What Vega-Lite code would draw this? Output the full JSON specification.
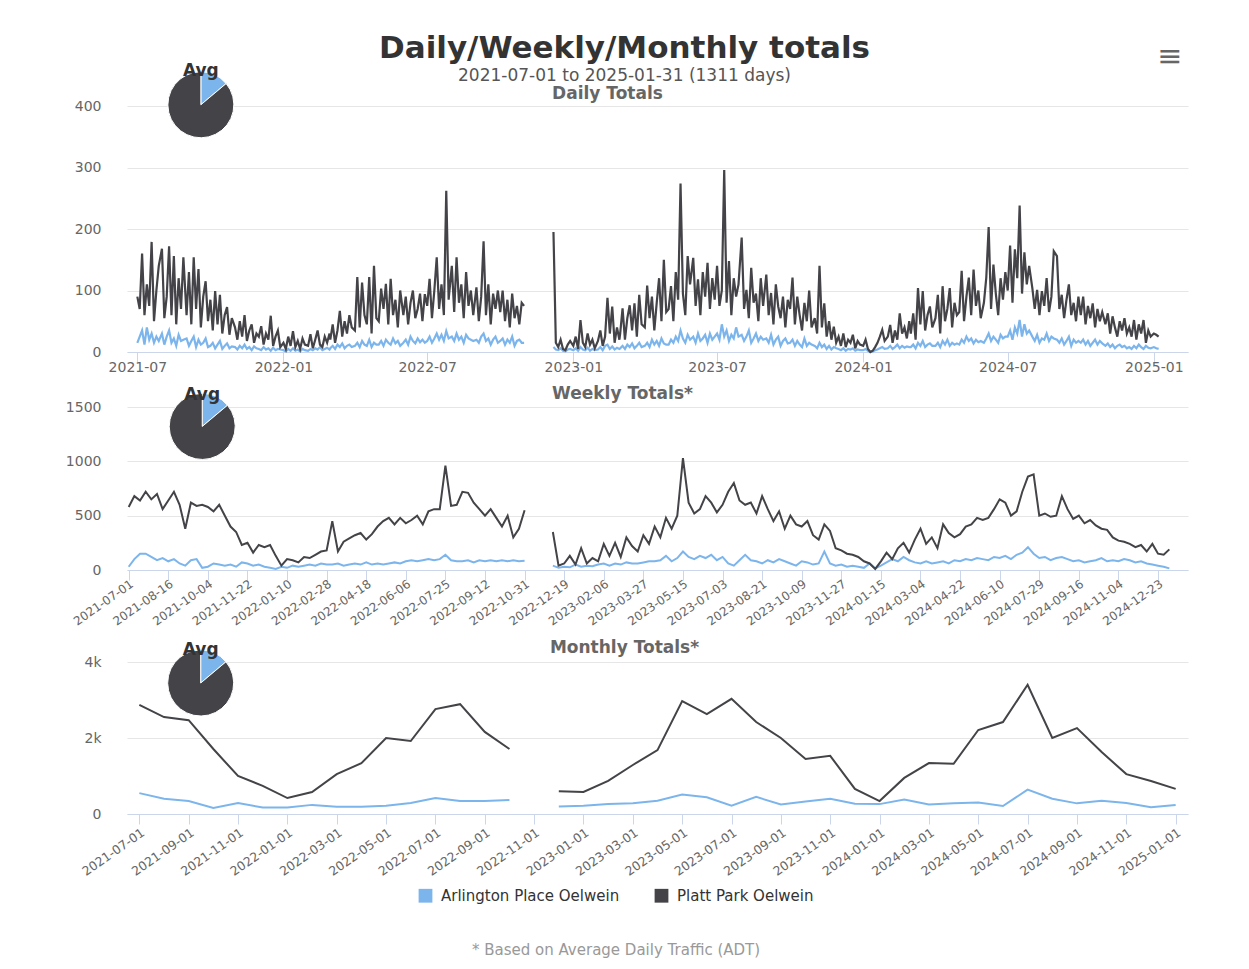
{
"$schema":"https://vega.github.io/schema/vega-lite/v6.json",
"background":"white",
"padding":{"left":5,"top":32,"right":5,"bottom":5},
"title":{"text":"Daily/Weekly/Monthly totals","subtitle":"2021-07-01 to 2025-01-31 (1311 days)","anchor":"middle","dx":28,"font":"DejaVu Sans","fontSize":31,"fontWeight":"bold","color":"#333333","subtitleFont":"DejaVu Sans","subtitleFontSize":17,"subtitleColor":"#555555","subtitlePadding":3,"offset":-43},
"datasets":{
"names":[{"k":"a","series":"Arlington Place Oelwein"},{"k":"p","series":"Platt Park Oelwein"}],
"avg":[{"series":"Arlington Place Oelwein","v":10},{"series":"Platt Park Oelwein","v":62}],
"daily":[
{"d":"2021-07-01","a":15,"p":90},{"d":"2021-07-04","a":25,"p":70},{"d":"2021-07-07","a":35,"p":160},{"d":"2021-07-10","a":12,"p":60},{"d":"2021-07-13","a":40,"p":110},{"d":"2021-07-16","a":20,"p":75},{"d":"2021-07-19","a":30,"p":179},{"d":"2021-07-22","a":15,"p":50},{"d":"2021-07-25","a":25,"p":100},{"d":"2021-07-28","a":18,"p":140},
{"d":"2021-08-01","a":30,"p":168},{"d":"2021-08-04","a":12,"p":55},{"d":"2021-08-07","a":25,"p":90},{"d":"2021-08-10","a":35,"p":172},{"d":"2021-08-13","a":15,"p":60},{"d":"2021-08-16","a":22,"p":156},{"d":"2021-08-19","a":10,"p":45},{"d":"2021-08-22","a":28,"p":120},{"d":"2021-08-25","a":18,"p":70},{"d":"2021-08-28","a":20,"p":154},
{"d":"2021-09-01","a":22,"p":60},{"d":"2021-09-04","a":10,"p":130},{"d":"2021-09-07","a":18,"p":45},{"d":"2021-09-10","a":25,"p":154},{"d":"2021-09-13","a":8,"p":70},{"d":"2021-09-16","a":20,"p":135},{"d":"2021-09-19","a":12,"p":40},{"d":"2021-09-22","a":15,"p":90},{"d":"2021-09-25","a":22,"p":115},{"d":"2021-09-28","a":8,"p":50},
{"d":"2021-10-01","a":10,"p":85},{"d":"2021-10-04","a":15,"p":35},{"d":"2021-10-07","a":6,"p":99},{"d":"2021-10-10","a":12,"p":45},{"d":"2021-10-13","a":18,"p":93},{"d":"2021-10-16","a":5,"p":30},{"d":"2021-10-19","a":10,"p":60},{"d":"2021-10-22","a":14,"p":73},{"d":"2021-10-25","a":6,"p":28},{"d":"2021-10-28","a":9,"p":55},
{"d":"2021-11-01","a":8,"p":40},{"d":"2021-11-04","a":4,"p":20},{"d":"2021-11-07","a":10,"p":50},{"d":"2021-11-10","a":6,"p":25},{"d":"2021-11-13","a":12,"p":60},{"d":"2021-11-16","a":5,"p":18},{"d":"2021-11-19","a":8,"p":35},{"d":"2021-11-22","a":3,"p":45},{"d":"2021-11-25","a":9,"p":15},{"d":"2021-11-28","a":6,"p":30},
{"d":"2021-12-01","a":5,"p":25},{"d":"2021-12-04","a":3,"p":42},{"d":"2021-12-07","a":8,"p":12},{"d":"2021-12-10","a":4,"p":30},{"d":"2021-12-13","a":6,"p":20},{"d":"2021-12-16","a":2,"p":59},{"d":"2021-12-19","a":7,"p":10},{"d":"2021-12-22","a":3,"p":25},{"d":"2021-12-25","a":5,"p":35},{"d":"2021-12-28","a":4,"p":8},
{"d":"2022-01-01","a":3,"p":15},{"d":"2022-01-04","a":1,"p":5},{"d":"2022-01-07","a":5,"p":25},{"d":"2022-01-10","a":2,"p":10},{"d":"2022-01-13","a":6,"p":34},{"d":"2022-01-16","a":2,"p":8},{"d":"2022-01-19","a":4,"p":18},{"d":"2022-01-22","a":1,"p":5},{"d":"2022-01-25","a":5,"p":22},{"d":"2022-01-28","a":3,"p":12},
{"d":"2022-02-01","a":2,"p":10},{"d":"2022-02-04","a":5,"p":29},{"d":"2022-02-07","a":3,"p":6},{"d":"2022-02-10","a":6,"p":20},{"d":"2022-02-13","a":4,"p":35},{"d":"2022-02-16","a":8,"p":12},{"d":"2022-02-19","a":3,"p":8},{"d":"2022-02-22","a":5,"p":25},{"d":"2022-02-25","a":7,"p":15},{"d":"2022-02-28","a":4,"p":30},
{"d":"2022-03-01","a":6,"p":20},{"d":"2022-03-04","a":10,"p":45},{"d":"2022-03-07","a":5,"p":15},{"d":"2022-03-10","a":12,"p":35},{"d":"2022-03-13","a":8,"p":67},{"d":"2022-03-16","a":14,"p":25},{"d":"2022-03-19","a":6,"p":50},{"d":"2022-03-22","a":10,"p":30},{"d":"2022-03-25","a":12,"p":60},{"d":"2022-03-28","a":8,"p":40},
{"d":"2022-04-01","a":10,"p":35},{"d":"2022-04-04","a":15,"p":122},{"d":"2022-04-07","a":8,"p":40},{"d":"2022-04-10","a":18,"p":113},{"d":"2022-04-13","a":12,"p":60},{"d":"2022-04-16","a":10,"p":45},{"d":"2022-04-19","a":20,"p":122},{"d":"2022-04-22","a":8,"p":30},{"d":"2022-04-25","a":15,"p":140},{"d":"2022-04-28","a":12,"p":55},
{"d":"2022-05-01","a":12,"p":50},{"d":"2022-05-04","a":18,"p":103},{"d":"2022-05-07","a":10,"p":70},{"d":"2022-05-10","a":20,"p":111},{"d":"2022-05-13","a":15,"p":45},{"d":"2022-05-16","a":12,"p":119},{"d":"2022-05-19","a":22,"p":60},{"d":"2022-05-22","a":14,"p":85},{"d":"2022-05-25","a":18,"p":40},{"d":"2022-05-28","a":10,"p":100},
{"d":"2022-06-01","a":15,"p":60},{"d":"2022-06-04","a":20,"p":90},{"d":"2022-06-07","a":12,"p":45},{"d":"2022-06-10","a":25,"p":80},{"d":"2022-06-13","a":18,"p":100},{"d":"2022-06-16","a":14,"p":55},{"d":"2022-06-19","a":22,"p":70},{"d":"2022-06-22","a":16,"p":95},{"d":"2022-06-25","a":20,"p":50},{"d":"2022-06-28","a":15,"p":94},
{"d":"2022-07-01","a":18,"p":75},{"d":"2022-07-04","a":25,"p":119},{"d":"2022-07-07","a":15,"p":55},{"d":"2022-07-10","a":22,"p":100},{"d":"2022-07-13","a":30,"p":154},{"d":"2022-07-16","a":20,"p":70},{"d":"2022-07-19","a":28,"p":110},{"d":"2022-07-22","a":18,"p":60},{"d":"2022-07-25","a":34,"p":262},{"d":"2022-07-28","a":22,"p":85},
{"d":"2022-08-01","a":25,"p":140},{"d":"2022-08-04","a":18,"p":65},{"d":"2022-08-07","a":30,"p":154},{"d":"2022-08-10","a":20,"p":80},{"d":"2022-08-13","a":25,"p":110},{"d":"2022-08-16","a":15,"p":55},{"d":"2022-08-19","a":28,"p":130},{"d":"2022-08-22","a":22,"p":75},{"d":"2022-08-25","a":20,"p":100},{"d":"2022-08-28","a":18,"p":60},
{"d":"2022-09-01","a":20,"p":105},{"d":"2022-09-04","a":15,"p":50},{"d":"2022-09-07","a":25,"p":90},{"d":"2022-09-10","a":30,"p":180},{"d":"2022-09-13","a":18,"p":60},{"d":"2022-09-16","a":22,"p":110},{"d":"2022-09-19","a":12,"p":45},{"d":"2022-09-22","a":20,"p":95},{"d":"2022-09-25","a":25,"p":70},{"d":"2022-09-28","a":15,"p":100},
{"d":"2022-10-01","a":18,"p":65},{"d":"2022-10-04","a":22,"p":100},{"d":"2022-10-07","a":12,"p":50},{"d":"2022-10-10","a":20,"p":85},{"d":"2022-10-13","a":15,"p":40},{"d":"2022-10-16","a":25,"p":95},{"d":"2022-10-19","a":10,"p":55},{"d":"2022-10-22","a":18,"p":75},{"d":"2022-10-25","a":20,"p":45},{"d":"2022-10-28","a":15,"p":80},{"d":"2022-10-31","a":15,"p":75},
{"d":"2022-11-15","a":null,"p":null},
{"d":"2022-12-07","a":8,"p":195},{"d":"2022-12-10","a":4,"p":15},{"d":"2022-12-13","a":3,"p":8},{"d":"2022-12-16","a":6,"p":20},{"d":"2022-12-19","a":2,"p":5},{"d":"2022-12-22","a":1,"p":3},{"d":"2022-12-25","a":4,"p":12},{"d":"2022-12-28","a":5,"p":18},
{"d":"2023-01-01","a":3,"p":10},{"d":"2023-01-04","a":6,"p":25},{"d":"2023-01-07","a":2,"p":5},{"d":"2023-01-10","a":8,"p":52},{"d":"2023-01-13","a":4,"p":15},{"d":"2023-01-16","a":3,"p":8},{"d":"2023-01-19","a":7,"p":30},{"d":"2023-01-22","a":2,"p":12},{"d":"2023-01-25","a":5,"p":20},{"d":"2023-01-28","a":3,"p":6},
{"d":"2023-02-01","a":4,"p":18},{"d":"2023-02-04","a":8,"p":35},{"d":"2023-02-07","a":3,"p":10},{"d":"2023-02-10","a":10,"p":25},{"d":"2023-02-13","a":12,"p":88},{"d":"2023-02-16","a":5,"p":30},{"d":"2023-02-19","a":9,"p":74},{"d":"2023-02-22","a":4,"p":15},{"d":"2023-02-25","a":7,"p":40},{"d":"2023-02-28","a":5,"p":20},
{"d":"2023-03-01","a":6,"p":30},{"d":"2023-03-04","a":10,"p":71},{"d":"2023-03-07","a":5,"p":20},{"d":"2023-03-10","a":12,"p":55},{"d":"2023-03-13","a":8,"p":76},{"d":"2023-03-16","a":14,"p":35},{"d":"2023-03-19","a":6,"p":79},{"d":"2023-03-22","a":10,"p":25},{"d":"2023-03-25","a":15,"p":93},{"d":"2023-03-28","a":8,"p":45},
{"d":"2023-04-01","a":10,"p":40},{"d":"2023-04-04","a":15,"p":108},{"d":"2023-04-07","a":8,"p":55},{"d":"2023-04-10","a":20,"p":90},{"d":"2023-04-13","a":12,"p":35},{"d":"2023-04-16","a":18,"p":80},{"d":"2023-04-19","a":10,"p":120},{"d":"2023-04-22","a":22,"p":50},{"d":"2023-04-25","a":14,"p":150},{"d":"2023-04-28","a":12,"p":65},
{"d":"2023-05-01","a":12,"p":70},{"d":"2023-05-04","a":20,"p":107},{"d":"2023-05-07","a":15,"p":50},{"d":"2023-05-10","a":25,"p":130},{"d":"2023-05-13","a":18,"p":85},{"d":"2023-05-16","a":35,"p":274},{"d":"2023-05-19","a":22,"p":95},{"d":"2023-05-22","a":15,"p":60},{"d":"2023-05-25","a":28,"p":156},{"d":"2023-05-28","a":20,"p":110},
{"d":"2023-06-01","a":25,"p":153},{"d":"2023-06-04","a":15,"p":75},{"d":"2023-06-07","a":30,"p":118},{"d":"2023-06-10","a":18,"p":60},{"d":"2023-06-13","a":22,"p":130},{"d":"2023-06-16","a":28,"p":90},{"d":"2023-06-19","a":15,"p":145},{"d":"2023-06-22","a":30,"p":70},{"d":"2023-06-25","a":20,"p":120},{"d":"2023-06-28","a":25,"p":85},
{"d":"2023-07-01","a":30,"p":140},{"d":"2023-07-04","a":20,"p":75},{"d":"2023-07-07","a":45,"p":100},{"d":"2023-07-10","a":25,"p":296},{"d":"2023-07-13","a":35,"p":80},{"d":"2023-07-16","a":18,"p":148},{"d":"2023-07-19","a":28,"p":60},{"d":"2023-07-22","a":22,"p":120},{"d":"2023-07-25","a":40,"p":90},{"d":"2023-07-28","a":25,"p":110},
{"d":"2023-08-01","a":28,"p":186},{"d":"2023-08-04","a":18,"p":70},{"d":"2023-08-07","a":25,"p":101},{"d":"2023-08-10","a":35,"p":55},{"d":"2023-08-13","a":15,"p":137},{"d":"2023-08-16","a":22,"p":80},{"d":"2023-08-19","a":30,"p":95},{"d":"2023-08-22","a":18,"p":50},{"d":"2023-08-25","a":25,"p":120},{"d":"2023-08-28","a":20,"p":75},
{"d":"2023-09-01","a":22,"p":126},{"d":"2023-09-04","a":15,"p":60},{"d":"2023-09-07","a":28,"p":96},{"d":"2023-09-10","a":12,"p":45},{"d":"2023-09-13","a":20,"p":110},{"d":"2023-09-16","a":25,"p":74},{"d":"2023-09-19","a":10,"p":55},{"d":"2023-09-22","a":18,"p":90},{"d":"2023-09-25","a":22,"p":40},{"d":"2023-09-28","a":14,"p":85},
{"d":"2023-10-01","a":15,"p":70},{"d":"2023-10-04","a":20,"p":121},{"d":"2023-10-07","a":10,"p":45},{"d":"2023-10-10","a":18,"p":90},{"d":"2023-10-13","a":12,"p":60},{"d":"2023-10-16","a":8,"p":35},{"d":"2023-10-19","a":22,"p":80},{"d":"2023-10-22","a":10,"p":50},{"d":"2023-10-25","a":15,"p":100},{"d":"2023-10-28","a":12,"p":40},
{"d":"2023-11-01","a":10,"p":55},{"d":"2023-11-04","a":6,"p":30},{"d":"2023-11-07","a":15,"p":140},{"d":"2023-11-10","a":8,"p":40},{"d":"2023-11-13","a":12,"p":79},{"d":"2023-11-16","a":5,"p":25},{"d":"2023-11-19","a":10,"p":50},{"d":"2023-11-22","a":4,"p":20},{"d":"2023-11-25","a":8,"p":41},{"d":"2023-11-28","a":6,"p":15},
{"d":"2023-12-01","a":5,"p":25},{"d":"2023-12-04","a":3,"p":10},{"d":"2023-12-07","a":6,"p":30},{"d":"2023-12-10","a":2,"p":8},{"d":"2023-12-13","a":5,"p":20},{"d":"2023-12-16","a":4,"p":15},{"d":"2023-12-19","a":6,"p":28},{"d":"2023-12-22","a":2,"p":6},{"d":"2023-12-25","a":4,"p":18},{"d":"2023-12-28","a":3,"p":12},
{"d":"2024-01-01","a":3,"p":10},{"d":"2024-01-04","a":5,"p":20},{"d":"2024-01-07","a":2,"p":5},{"d":"2024-01-10","a":0,"p":0},{"d":"2024-01-13","a":1,"p":2},{"d":"2024-01-16","a":3,"p":8},{"d":"2024-01-19","a":4,"p":15},{"d":"2024-01-22","a":6,"p":25},{"d":"2024-01-25","a":8,"p":36},{"d":"2024-01-28","a":5,"p":18},
{"d":"2024-02-01","a":6,"p":25},{"d":"2024-02-04","a":10,"p":44},{"d":"2024-02-07","a":5,"p":15},{"d":"2024-02-10","a":8,"p":35},{"d":"2024-02-13","a":12,"p":20},{"d":"2024-02-16","a":6,"p":63},{"d":"2024-02-19","a":10,"p":30},{"d":"2024-02-22","a":7,"p":40},{"d":"2024-02-25","a":9,"p":22},{"d":"2024-02-28","a":8,"p":50},
{"d":"2024-03-01","a":8,"p":30},{"d":"2024-03-04","a":12,"p":63},{"d":"2024-03-07","a":6,"p":20},{"d":"2024-03-10","a":15,"p":104},{"d":"2024-03-13","a":10,"p":45},{"d":"2024-03-16","a":18,"p":99},{"d":"2024-03-19","a":8,"p":35},{"d":"2024-03-22","a":12,"p":60},{"d":"2024-03-25","a":14,"p":74},{"d":"2024-03-28","a":10,"p":40},
{"d":"2024-04-01","a":10,"p":55},{"d":"2024-04-04","a":15,"p":93},{"d":"2024-04-07","a":8,"p":30},{"d":"2024-04-10","a":18,"p":107},{"d":"2024-04-13","a":12,"p":50},{"d":"2024-04-16","a":20,"p":70},{"d":"2024-04-19","a":10,"p":104},{"d":"2024-04-22","a":15,"p":40},{"d":"2024-04-25","a":12,"p":80},{"d":"2024-04-28","a":14,"p":60},
{"d":"2024-05-01","a":12,"p":65},{"d":"2024-05-04","a":20,"p":132},{"d":"2024-05-07","a":15,"p":50},{"d":"2024-05-10","a":25,"p":90},{"d":"2024-05-13","a":18,"p":121},{"d":"2024-05-16","a":22,"p":60},{"d":"2024-05-19","a":14,"p":134},{"d":"2024-05-22","a":20,"p":75},{"d":"2024-05-25","a":16,"p":100},{"d":"2024-05-28","a":18,"p":55},
{"d":"2024-06-01","a":15,"p":80},{"d":"2024-06-04","a":22,"p":121},{"d":"2024-06-07","a":30,"p":203},{"d":"2024-06-10","a":18,"p":70},{"d":"2024-06-13","a":25,"p":142},{"d":"2024-06-16","a":20,"p":95},{"d":"2024-06-19","a":15,"p":60},{"d":"2024-06-22","a":28,"p":120},{"d":"2024-06-25","a":22,"p":85},{"d":"2024-06-28","a":25,"p":130},
{"d":"2024-07-01","a":25,"p":100},{"d":"2024-07-04","a":35,"p":173},{"d":"2024-07-07","a":20,"p":80},{"d":"2024-07-10","a":40,"p":167},{"d":"2024-07-13","a":30,"p":120},{"d":"2024-07-16","a":52,"p":238},{"d":"2024-07-19","a":25,"p":95},{"d":"2024-07-22","a":45,"p":162},{"d":"2024-07-25","a":30,"p":110},{"d":"2024-07-28","a":35,"p":140},
{"d":"2024-08-01","a":25,"p":104},{"d":"2024-08-04","a":18,"p":70},{"d":"2024-08-07","a":28,"p":101},{"d":"2024-08-10","a":15,"p":60},{"d":"2024-08-13","a":22,"p":99},{"d":"2024-08-16","a":20,"p":75},{"d":"2024-08-19","a":30,"p":120},{"d":"2024-08-22","a":18,"p":65},{"d":"2024-08-25","a":25,"p":90},{"d":"2024-08-28","a":22,"p":164},
{"d":"2024-09-01","a":20,"p":156},{"d":"2024-09-04","a":15,"p":70},{"d":"2024-09-07","a":22,"p":93},{"d":"2024-09-10","a":12,"p":55},{"d":"2024-09-13","a":18,"p":85},{"d":"2024-09-16","a":25,"p":110},{"d":"2024-09-19","a":10,"p":60},{"d":"2024-09-22","a":20,"p":80},{"d":"2024-09-25","a":15,"p":50},{"d":"2024-09-28","a":18,"p":90},
{"d":"2024-10-01","a":15,"p":60},{"d":"2024-10-04","a":20,"p":90},{"d":"2024-10-07","a":12,"p":45},{"d":"2024-10-10","a":18,"p":75},{"d":"2024-10-13","a":10,"p":55},{"d":"2024-10-16","a":15,"p":79},{"d":"2024-10-19","a":20,"p":40},{"d":"2024-10-22","a":12,"p":70},{"d":"2024-10-25","a":18,"p":50},{"d":"2024-10-28","a":14,"p":65},
{"d":"2024-11-01","a":10,"p":45},{"d":"2024-11-04","a":14,"p":63},{"d":"2024-11-07","a":8,"p":30},{"d":"2024-11-10","a":12,"p":58},{"d":"2024-11-13","a":6,"p":40},{"d":"2024-11-16","a":10,"p":25},{"d":"2024-11-19","a":12,"p":50},{"d":"2024-11-22","a":8,"p":35},{"d":"2024-11-25","a":10,"p":55},{"d":"2024-11-28","a":6,"p":30},
{"d":"2024-12-01","a":8,"p":40},{"d":"2024-12-04","a":5,"p":25},{"d":"2024-12-07","a":10,"p":52},{"d":"2024-12-10","a":6,"p":20},{"d":"2024-12-13","a":12,"p":45},{"d":"2024-12-16","a":8,"p":30},{"d":"2024-12-19","a":5,"p":52},{"d":"2024-12-22","a":10,"p":15},{"d":"2024-12-25","a":7,"p":35},{"d":"2024-12-28","a":6,"p":25},
{"d":"2025-01-01","a":8,"p":30},{"d":"2025-01-04","a":6,"p":28},{"d":"2025-01-07","a":5,"p":25}
],
"weekly":[
{"w":"2021-07-01","p":580,"a":30},{"w":"2021-07-05","p":680,"a":100},{"w":"2021-07-12","p":640,"a":150},{"w":"2021-07-19","p":720,"a":150},{"w":"2021-07-26","p":650,"a":120},{"w":"2021-08-02","p":700,"a":90},{"w":"2021-08-09","p":560,"a":110},{"w":"2021-08-16","p":640,"a":80},{"w":"2021-08-23","p":720,"a":100},{"w":"2021-08-30","p":600,"a":60},
{"w":"2021-09-06","p":380,"a":40},{"w":"2021-09-13","p":620,"a":90},{"w":"2021-09-20","p":590,"a":100},{"w":"2021-09-27","p":600,"a":20},{"w":"2021-10-04","p":580,"a":30},{"w":"2021-10-11","p":540,"a":60},{"w":"2021-10-18","p":600,"a":50},{"w":"2021-10-25","p":500,"a":40},{"w":"2021-11-01","p":400,"a":50},{"w":"2021-11-08","p":350,"a":30},
{"w":"2021-11-15","p":230,"a":70},{"w":"2021-11-22","p":250,"a":60},{"w":"2021-11-29","p":160,"a":40},{"w":"2021-12-06","p":230,"a":50},{"w":"2021-12-13","p":210,"a":30},{"w":"2021-12-20","p":230,"a":20},{"w":"2021-12-27","p":130,"a":10},{"w":"2022-01-03","p":40,"a":30},{"w":"2022-01-10","p":100,"a":20},{"w":"2022-01-17","p":90,"a":40},
{"w":"2022-01-24","p":70,"a":30},{"w":"2022-01-31","p":120,"a":40},{"w":"2022-02-07","p":110,"a":50},{"w":"2022-02-14","p":140,"a":40},{"w":"2022-02-21","p":170,"a":60},{"w":"2022-02-28","p":180,"a":50},{"w":"2022-03-07","p":450,"a":50},{"w":"2022-03-14","p":170,"a":60},{"w":"2022-03-21","p":260,"a":40},{"w":"2022-03-28","p":290,"a":50},
{"w":"2022-04-04","p":320,"a":60},{"w":"2022-04-11","p":340,"a":50},{"w":"2022-04-18","p":280,"a":70},{"w":"2022-04-25","p":330,"a":50},{"w":"2022-05-02","p":400,"a":60},{"w":"2022-05-09","p":450,"a":50},{"w":"2022-05-16","p":480,"a":60},{"w":"2022-05-23","p":420,"a":70},{"w":"2022-05-30","p":480,"a":60},{"w":"2022-06-06","p":430,"a":80},
{"w":"2022-06-13","p":460,"a":90},{"w":"2022-06-20","p":500,"a":80},{"w":"2022-06-27","p":420,"a":90},{"w":"2022-07-04","p":540,"a":100},{"w":"2022-07-11","p":560,"a":90},{"w":"2022-07-18","p":560,"a":100},{"w":"2022-07-25","p":960,"a":140},{"w":"2022-08-01","p":590,"a":90},{"w":"2022-08-08","p":600,"a":80},{"w":"2022-08-15","p":720,"a":80},
{"w":"2022-08-22","p":710,"a":90},{"w":"2022-08-29","p":620,"a":70},{"w":"2022-09-05","p":560,"a":90},{"w":"2022-09-12","p":500,"a":80},{"w":"2022-09-19","p":560,"a":90},{"w":"2022-09-26","p":480,"a":80},{"w":"2022-10-03","p":400,"a":90},{"w":"2022-10-10","p":500,"a":80},{"w":"2022-10-17","p":300,"a":90},{"w":"2022-10-24","p":380,"a":80},
{"w":"2022-10-31","p":550,"a":85},{"w":"2022-11-07","p":null,"a":null},{"w":"2022-11-14","p":null,"a":null},{"w":"2022-11-21","p":null,"a":null},{"w":"2022-11-28","p":null,"a":null},{"w":"2022-12-05","p":350,"a":40},{"w":"2022-12-12","p":40,"a":20},{"w":"2022-12-19","p":60,"a":30},{"w":"2022-12-26","p":130,"a":25},{"w":"2023-01-02","p":50,"a":50},
{"w":"2023-01-09","p":200,"a":30},{"w":"2023-01-16","p":60,"a":40},{"w":"2023-01-23","p":110,"a":35},{"w":"2023-01-30","p":80,"a":50},{"w":"2023-02-06","p":240,"a":60},{"w":"2023-02-13","p":130,"a":40},{"w":"2023-02-20","p":250,"a":60},{"w":"2023-02-27","p":120,"a":50},{"w":"2023-03-06","p":300,"a":70},{"w":"2023-03-13","p":220,"a":60},
{"w":"2023-03-20","p":170,"a":60},{"w":"2023-03-27","p":320,"a":70},{"w":"2023-04-03","p":240,"a":80},{"w":"2023-04-10","p":400,"a":80},{"w":"2023-04-17","p":300,"a":90},{"w":"2023-04-24","p":480,"a":130},{"w":"2023-05-01","p":380,"a":80},{"w":"2023-05-08","p":500,"a":110},{"w":"2023-05-15","p":1030,"a":170},{"w":"2023-05-22","p":620,"a":120},
{"w":"2023-05-29","p":520,"a":100},{"w":"2023-06-05","p":560,"a":130},{"w":"2023-06-12","p":680,"a":110},{"w":"2023-06-19","p":620,"a":140},{"w":"2023-06-26","p":530,"a":90},{"w":"2023-07-03","p":600,"a":120},{"w":"2023-07-10","p":720,"a":60},{"w":"2023-07-17","p":800,"a":40},{"w":"2023-07-24","p":640,"a":90},{"w":"2023-07-31","p":600,"a":140},
{"w":"2023-08-07","p":620,"a":90},{"w":"2023-08-14","p":520,"a":80},{"w":"2023-08-21","p":680,"a":60},{"w":"2023-08-28","p":560,"a":90},{"w":"2023-09-04","p":450,"a":70},{"w":"2023-09-11","p":540,"a":100},{"w":"2023-09-18","p":380,"a":80},{"w":"2023-09-25","p":500,"a":60},{"w":"2023-10-02","p":420,"a":40},{"w":"2023-10-09","p":400,"a":80},
{"w":"2023-10-16","p":450,"a":70},{"w":"2023-10-23","p":320,"a":50},{"w":"2023-10-30","p":280,"a":60},{"w":"2023-11-06","p":420,"a":170},{"w":"2023-11-13","p":360,"a":60},{"w":"2023-11-20","p":200,"a":40},{"w":"2023-11-27","p":180,"a":50},{"w":"2023-12-04","p":150,"a":30},{"w":"2023-12-11","p":140,"a":40},{"w":"2023-12-18","p":120,"a":30},
{"w":"2023-12-25","p":80,"a":20},{"w":"2024-01-01","p":60,"a":60},{"w":"2024-01-08","p":10,"a":15},{"w":"2024-01-15","p":80,"a":40},{"w":"2024-01-22","p":160,"a":70},{"w":"2024-01-29","p":100,"a":100},{"w":"2024-02-05","p":200,"a":80},{"w":"2024-02-12","p":250,"a":120},{"w":"2024-02-19","p":160,"a":90},{"w":"2024-02-26","p":280,"a":70},
{"w":"2024-03-04","p":380,"a":60},{"w":"2024-03-11","p":240,"a":80},{"w":"2024-03-18","p":300,"a":60},{"w":"2024-03-25","p":200,"a":70},{"w":"2024-04-01","p":420,"a":80},{"w":"2024-04-08","p":340,"a":60},{"w":"2024-04-15","p":300,"a":90},{"w":"2024-04-22","p":330,"a":80},{"w":"2024-04-29","p":400,"a":100},{"w":"2024-05-06","p":420,"a":90},
{"w":"2024-05-13","p":480,"a":110},{"w":"2024-05-20","p":460,"a":100},{"w":"2024-05-27","p":480,"a":90},{"w":"2024-06-03","p":560,"a":120},{"w":"2024-06-10","p":650,"a":110},{"w":"2024-06-17","p":620,"a":130},{"w":"2024-06-24","p":500,"a":100},{"w":"2024-07-01","p":540,"a":140},{"w":"2024-07-08","p":720,"a":160},{"w":"2024-07-15","p":860,"a":210},
{"w":"2024-07-22","p":880,"a":150},{"w":"2024-07-29","p":500,"a":110},{"w":"2024-08-05","p":520,"a":120},{"w":"2024-08-12","p":490,"a":90},{"w":"2024-08-19","p":500,"a":110},{"w":"2024-08-26","p":680,"a":120},{"w":"2024-09-02","p":560,"a":100},{"w":"2024-09-09","p":470,"a":80},{"w":"2024-09-16","p":500,"a":90},{"w":"2024-09-23","p":430,"a":70},
{"w":"2024-09-30","p":460,"a":80},{"w":"2024-10-07","p":410,"a":90},{"w":"2024-10-14","p":380,"a":110},{"w":"2024-10-21","p":370,"a":80},{"w":"2024-10-28","p":300,"a":90},{"w":"2024-11-04","p":270,"a":80},{"w":"2024-11-11","p":260,"a":100},{"w":"2024-11-18","p":240,"a":90},{"w":"2024-11-25","p":210,"a":70},{"w":"2024-12-02","p":230,"a":80},
{"w":"2024-12-09","p":170,"a":60},{"w":"2024-12-16","p":240,"a":50},{"w":"2024-12-23","p":150,"a":40},{"w":"2024-12-30","p":140,"a":30},{"w":"2025-01-06","p":190,"a":15},{"w":"2025-01-13","p":null,"a":null},{"w":"2025-01-20","p":null,"a":null},{"w":"2025-01-27","p":null,"a":null}
],
"monthly":[
{"m":"2021-07-01","p":2870,"a":550},{"m":"2021-08-01","p":2550,"a":400},{"m":"2021-09-01","p":2470,"a":340},{"m":"2021-10-01","p":1710,"a":160},{"m":"2021-11-01","p":1000,"a":290},{"m":"2021-12-01","p":740,"a":170},
{"m":"2022-01-01","p":420,"a":170},{"m":"2022-02-01","p":580,"a":240},{"m":"2022-03-01","p":1050,"a":190},{"m":"2022-04-01","p":1340,"a":190},{"m":"2022-05-01","p":2000,"a":220},{"m":"2022-06-01","p":1920,"a":290},
{"m":"2022-07-01","p":2760,"a":420},{"m":"2022-08-01","p":2890,"a":340},{"m":"2022-09-01","p":2160,"a":340},{"m":"2022-10-01","p":1710,"a":370},{"m":"2022-11-01","p":null,"a":null},{"m":"2022-12-01","p":600,"a":200},
{"m":"2023-01-01","p":580,"a":220},{"m":"2023-02-01","p":870,"a":260},{"m":"2023-03-01","p":1290,"a":280},{"m":"2023-04-01","p":1680,"a":350},{"m":"2023-05-01","p":2970,"a":510},{"m":"2023-06-01","p":2630,"a":440},
{"m":"2023-07-01","p":3030,"a":220},{"m":"2023-08-01","p":2420,"a":450},{"m":"2023-09-01","p":2000,"a":250},{"m":"2023-10-01","p":1450,"a":330},{"m":"2023-11-01","p":1530,"a":400},{"m":"2023-12-01","p":660,"a":270},
{"m":"2024-01-01","p":340,"a":260},{"m":"2024-02-01","p":950,"a":380},{"m":"2024-03-01","p":1340,"a":250},{"m":"2024-04-01","p":1320,"a":280},{"m":"2024-05-01","p":2210,"a":300},{"m":"2024-06-01","p":2420,"a":210},
{"m":"2024-07-01","p":3400,"a":640},{"m":"2024-08-01","p":2000,"a":400},{"m":"2024-09-01","p":2260,"a":280},{"m":"2024-10-01","p":1630,"a":350},{"m":"2024-11-01","p":1050,"a":290},{"m":"2024-12-01","p":870,"a":180},
{"m":"2025-01-01","p":660,"a":240}
]
},
"vconcat":[
{
"title":{"text":"Daily Totals","offset":-61,"frame":"bounds","dx":11},
"width":1061,"height":246,
"layer":[
{"data":{"name":"daily"},
 "transform":[{"fold":["a","p"],"as":["k","v"]},{"lookup":"k","from":{"data":{"name":"names"},"key":"k","fields":["series"]}}],
 "mark":{"type":"line","strokeWidth":2.2},
 "encoding":{
  "x":{"field":"d","type":"temporal","title":null,"scale":{"domain":[{"year":2021,"month":6,"date":18},{"year":2025,"month":2,"date":13}]},
       "axis":{"values":[{"year":2021,"month":7,"date":1},{"year":2022,"month":1,"date":1},{"year":2022,"month":7,"date":1},{"year":2023,"month":1,"date":1},{"year":2023,"month":7,"date":1},{"year":2024,"month":1,"date":1},{"year":2024,"month":7,"date":1},{"year":2025,"month":1,"date":1}],"format":"%Y-%m","labelFontSize":14,"labelAngle":0,"labelPadding":-2}},
  "y":{"field":"v","type":"quantitative","title":null,"scale":{"domain":[0,400],"nice":false},"axis":{"values":[0,100,200,300,400]}},
  "color":{"field":"series","type":"nominal","scale":{"domain":["Arlington Place Oelwein","Platt Park Oelwein"],"range":["#7cb5ec","#434348"]},"legend":{"title":"* Based on Average Daily Traffic (ADT)","encode":{"symbols":{"update":{"fill":{"field":"value","scale":"color"},"opacity":{"value":1}}}}}}
 }},
{"data":{"name":"avg"},
 "mark":{"type":"arc","radius":33,"stroke":"#ffffff","strokeWidth":1},
 "encoding":{"theta":{"field":"v","type":"quantitative"},"color":{"field":"series","type":"nominal"},"x":{"datum":{"year":2021,"month":9,"date":19}},"y":{"datum":402}}},
{"data":{"values":[{"t":"Avg"}]},
 "mark":{"type":"text","fontSize":17,"fontWeight":"bold","color":"#333333","font":"DejaVu Sans"},
 "encoding":{"text":{"field":"t"},"x":{"datum":{"year":2021,"month":9,"date":19}},"y":{"datum":457}}},
{"data":{"values":[{"t":"≡"}]},
 "mark":{"type":"text","fontSize":30,"color":"#666666","font":"DejaVu Sans"},
 "encoding":{"text":{"field":"t"},"x":{"datum":{"year":2025,"month":1,"date":21}},"y":{"datum":480}}}
]
},
{
"title":{"text":"Weekly Totals*","offset":-17,"frame":"bounds","dx":26},
"width":1061,"height":163,
"layer":[
{"data":{"name":"weekly"},
 "transform":[{"fold":["a","p"],"as":["k","v"]},{"lookup":"k","from":{"data":{"name":"names"},"key":"k","fields":["series"]}}],
 "mark":{"type":"line","strokeWidth":2},
 "encoding":{
  "x":{"field":"w","type":"ordinal","title":null,"scale":{"type":"point","padding":0.3},
       "axis":{"values":["2021-07-01","2021-08-16","2021-10-04","2021-11-22","2022-01-10","2022-02-28","2022-04-18","2022-06-06","2022-07-25","2022-09-12","2022-10-31","2022-12-19","2023-02-06","2023-03-27","2023-05-15","2023-07-03","2023-08-21","2023-10-09","2023-11-27","2024-01-15","2024-03-04","2024-04-22","2024-06-10","2024-07-29","2024-09-16","2024-11-04","2024-12-23"],"labelAngle":-35,"labelFontSize":12,"labelPadding":-2}},
  "y":{"field":"v","type":"quantitative","title":null,"scale":{"domain":[0,1500],"nice":false},"axis":{"values":[0,500,1000,1500],"format":"d"}},
  "color":{"field":"series","type":"nominal"}
 }},
{"data":{"name":"avg"},
 "mark":{"type":"arc","radius":33,"stroke":"#ffffff","strokeWidth":1},
 "encoding":{"theta":{"field":"v","type":"quantitative"},"color":{"field":"series","type":"nominal"},"x":{"datum":"2021-09-27","type":"ordinal"},"y":{"datum":1321}}},
{"data":{"values":[{"t":"Avg"}]},
 "mark":{"type":"text","fontSize":17,"fontWeight":"bold","color":"#333333","font":"DejaVu Sans"},
 "encoding":{"text":{"field":"t"},"x":{"datum":"2021-09-27","type":"ordinal"},"y":{"datum":1615}}}
]
},
{
"title":{"text":"Monthly Totals*","offset":-16,"frame":"bounds","dx":28},
"width":1061,"height":152,
"layer":[
{"data":{"name":"monthly"},
 "transform":[{"fold":["a","p"],"as":["k","v"]},{"lookup":"k","from":{"data":{"name":"names"},"key":"k","fields":["series"]}}],
 "mark":{"type":"line","strokeWidth":2},
 "encoding":{
  "x":{"field":"m","type":"ordinal","title":null,"scale":{"type":"point","padding":0.5},
       "axis":{"values":["2021-07-01","2021-09-01","2021-11-01","2022-01-01","2022-03-01","2022-05-01","2022-07-01","2022-09-01","2022-11-01","2023-01-01","2023-03-01","2023-05-01","2023-07-01","2023-09-01","2023-11-01","2024-01-01","2024-03-01","2024-05-01","2024-07-01","2024-09-01","2024-11-01","2025-01-01"],"labelAngle":-35,"labelFontSize":12.5}},
  "y":{"field":"v","type":"quantitative","title":null,"scale":{"domain":[0,4000],"nice":false},"axis":{"values":[0,2000,4000],"labelExpr":"datum.value == 0 ? '0' : (datum.value/1000) + 'k'"}},
  "color":{"field":"series","type":"nominal"}
 }},
{"data":{"name":"avg"},
 "mark":{"type":"arc","radius":33,"stroke":"#ffffff","strokeWidth":1,"xOffset":12},
 "encoding":{"theta":{"field":"v","type":"quantitative"},"color":{"field":"series","type":"nominal"},"x":{"datum":"2021-09-01","type":"ordinal"},"y":{"datum":3447}}},
{"data":{"values":[{"t":"Avg"}]},
 "mark":{"type":"text","fontSize":17,"fontWeight":"bold","color":"#333333","font":"DejaVu Sans","xOffset":12},
 "encoding":{"text":{"field":"t"},"x":{"datum":"2021-09-01","type":"ordinal"},"y":{"datum":4316}}}
]
}
],
"spacing":10,
"resolve":{"scale":{"color":"shared","x":"independent","y":"independent"}},
"config":{
 "font":"DejaVu Sans",
 "view":{"stroke":null},
 "axis":{"labelFont":"DejaVu Sans","labelColor":"#666666","titleFont":"DejaVu Sans"},
 "axisY":{"grid":true,"gridColor":"#e6e6e6","domain":false,"ticks":false,"labelFontSize":14,"labelPadding":26,"minExtent":122,"maxExtent":122},
 "axisX":{"grid":false,"domainColor":"#ccd6eb","tickColor":"#ccd6eb","tickSize":10,"labelFontSize":13},
 "title":{"font":"DejaVu Sans","fontSize":17,"fontWeight":"bold","color":"#666666"},
 "legend":{"orient":"none","legendX":291,"legendY":782,"direction":"horizontal","titleOrient":"bottom","titleAnchor":"middle","titleFontWeight":"normal","titleColor":"#999999","titleFontSize":15,"titleFont":"DejaVu Sans","titlePadding":39,"titleLimit":600,"labelFontSize":15,"labelColor":"#333333","labelFont":"DejaVu Sans","labelOffset":8,"symbolType":"square","symbolSize":190,"symbolStrokeWidth":0,"columnPadding":34,"labelLimit":400}
}
}
